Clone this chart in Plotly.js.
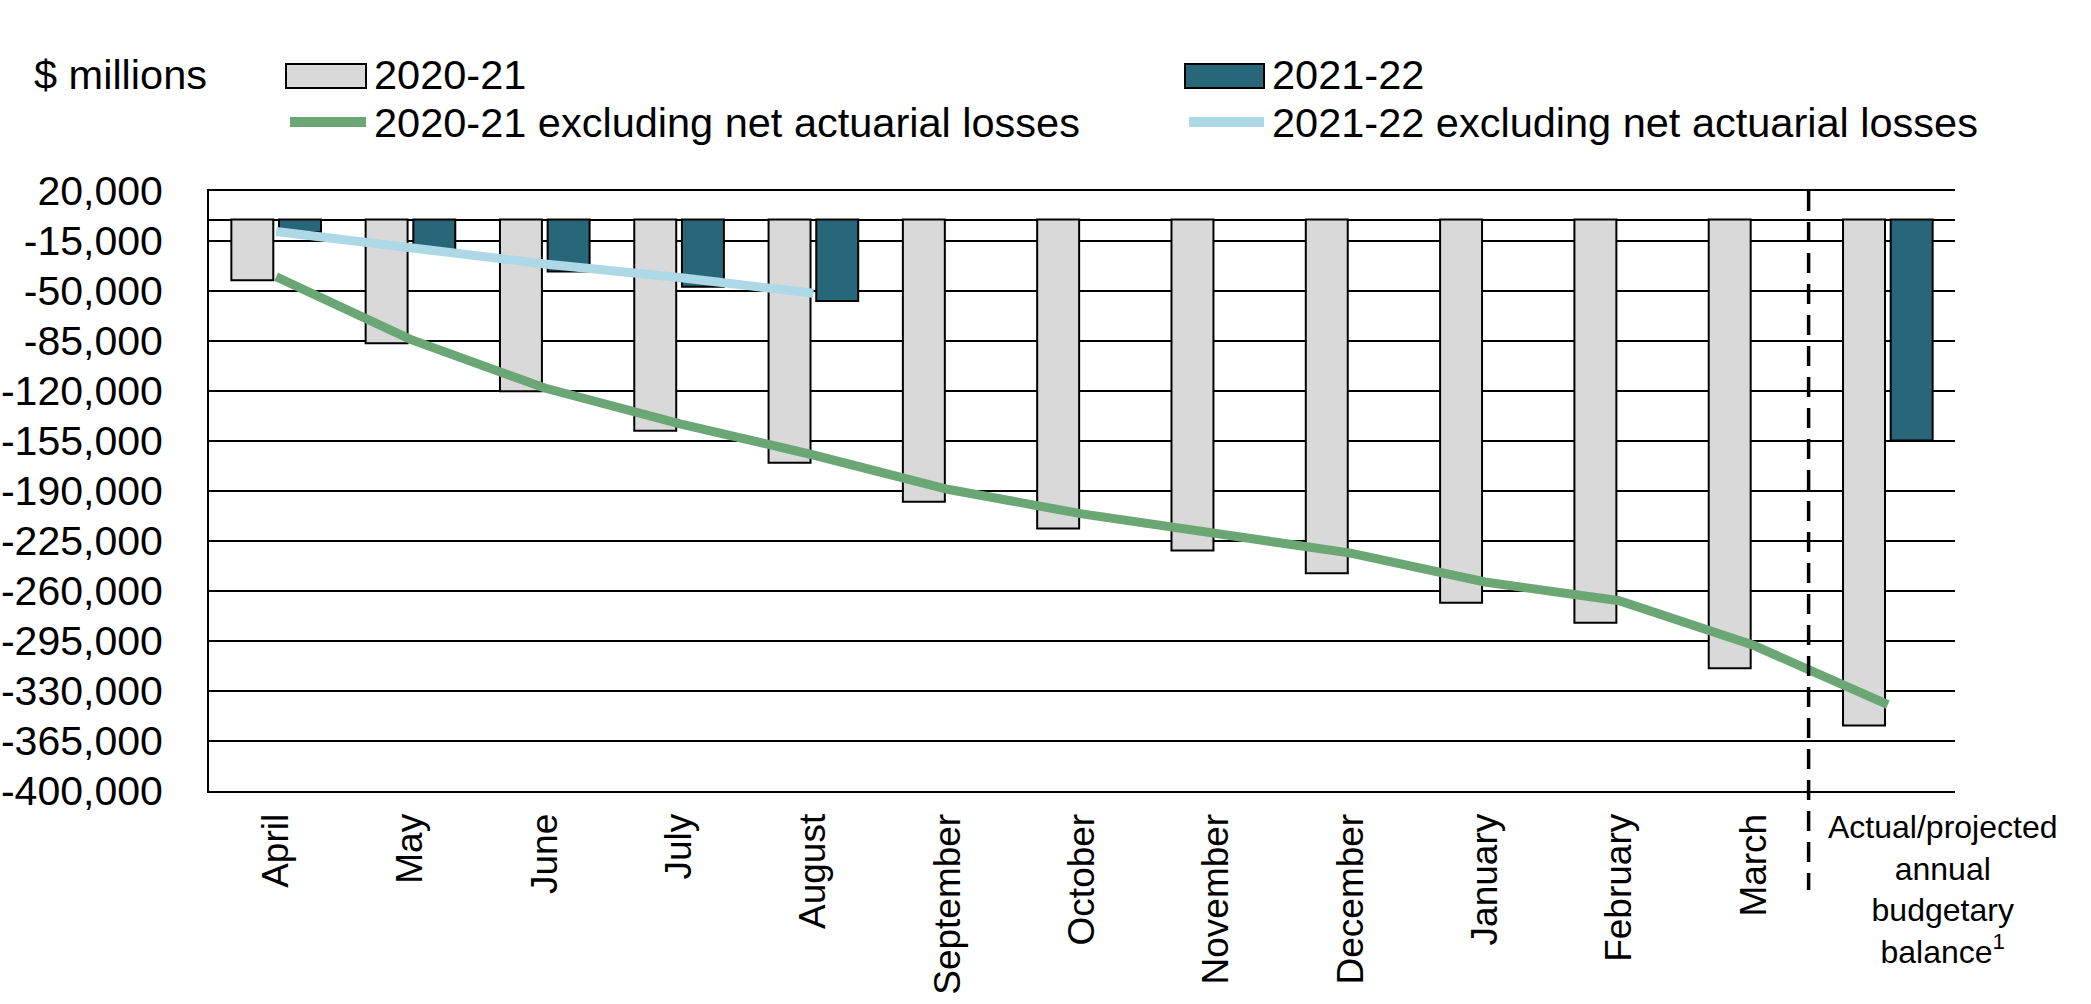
<!DOCTYPE html>
<html>
<head>
<meta charset="utf-8">
<script src="https://cdn.plot.ly/plotly-3.0.1.min.js"></script>
<style>
  html, body { margin: 0; padding: 0; background: #ffffff; }
  #chart { width: 2091px; height: 1004px; }
</style>
</head>
<body>
<div id="chart"></div>
<script>
// ---------------- data ----------------
var categories = ["April", "May", "June", "July", "August", "September", "October",
  "November", "December", "January", "February", "March",
  "Actual/projected annual budgetary balance"];
var monthLabels = ["April", "May", "June", "July", "August", "September", "October",
  "November", "December", "January", "February", "March"];
var annualLabel = "Actual/projected<br>annual<br>budgetary<br>balance<sup>1</sup>";

var balance2020 = [-42400, -86500, -120200, -147800, -170200, -197500, -216300,
  -231600, -247500, -268200, -282200, -314000, -354200];
var balance2021 = [-8800, -21300, -36300, -47000, -57000, null, null,
  null, null, null, null, null, -154700];
var excl2020 = [-40000, -83900, -117900, -142800, -164800, -188800, -206000,
  -220000, -233500, -253700, -266800, -298000, -339500];
var excl2021 = [-8400, -19400, -31100, -40500, -51600];

var yTickVals = [20000, -15000, -50000, -85000, -120000, -155000, -190000,
  -225000, -260000, -295000, -330000, -365000, -400000];
var yTickText = ["20,000", "-15,000", "-50,000", "-85,000", "-120,000", "-155,000", "-190,000",
  "-225,000", "-260,000", "-295,000", "-330,000", "-365,000", "-400,000"];

var seriesNames = ["2020-21", "2021-22", "2020-21 excluding net actuarial losses",
  "2021-22 excluding net actuarial losses"];
var unitLabel = "$ millions";

// ---------------- styles / layout ----------------
var W = 2091, H = 1004;
var ML = 209, MR = 136, MT = 191, MB = 213;
var PW = W - ML - MR, PH = H - MT - MB;
function px(x) { return (x - ML) / PW; }
function py(y) { return (H - MB - y) / PH; }

var FONT = "Liberation Sans, Arial, sans-serif";
var GRAY = "#D9D9D9", TEAL = "#276779", GREEN = "#6AA775", LBLUE = "#ADD8E6";
var CLEAR = "rgba(0,0,0,0)";

var traces = [
  { type: "bar", name: seriesNames[0], x: categories, y: balance2020,
    marker: { color: GRAY, line: { color: "#000000", width: 2 } }, showlegend: false },
  { type: "bar", name: seriesNames[1], x: categories, y: balance2021,
    marker: { color: TEAL, line: { color: "#000000", width: 2 } }, showlegend: false },
  { type: "scatter", mode: "lines", name: seriesNames[2], x: categories, y: excl2020,
    line: { color: GREEN, width: 9 }, showlegend: false },
  { type: "scatter", mode: "lines", name: seriesNames[3], x: categories.slice(0, excl2021.length), y: excl2021,
    line: { color: LBLUE, width: 9 }, showlegend: false }
];

var legendFont = { family: FONT, size: 41.5, color: "#000000" };

var shapes = [
  // vertical dashed separator between March and annual value
  { type: "line", xref: "x", yref: "paper", x0: 11.41, x1: 11.41, y0: 1, y1: py(890),
    line: { color: "#000000", width: 3.5, dash: "20px,11px" }, layer: "above" },
  // legend symbols
  { type: "rect", xref: "paper", yref: "paper", x0: px(286), x1: px(366), y0: py(64), y1: py(88),
    fillcolor: GRAY, line: { color: "#000000", width: 2 } },
  { type: "rect", xref: "paper", yref: "paper", x0: px(1185), x1: px(1264), y0: py(64), y1: py(88),
    fillcolor: TEAL, line: { color: "#000000", width: 2 } },
  { type: "line", xref: "paper", yref: "paper", x0: px(290), x1: px(366), y0: py(122), y1: py(122),
    line: { color: GREEN, width: 10 } },
  { type: "line", xref: "paper", yref: "paper", x0: px(1189), x1: px(1264), y0: py(122), y1: py(122),
    line: { color: LBLUE, width: 10 } }
];

var annotations = [
  { xref: "paper", yref: "paper", x: px(32), y: py(75), xanchor: "left", yanchor: "middle",
    text: unitLabel, showarrow: false, font: legendFont },
  { xref: "paper", yref: "paper", x: px(372), y: py(75), xanchor: "left", yanchor: "middle",
    text: seriesNames[0], showarrow: false, font: legendFont },
  { xref: "paper", yref: "paper", x: px(1270), y: py(75), xanchor: "left", yanchor: "middle",
    text: seriesNames[1], showarrow: false, font: legendFont },
  { xref: "paper", yref: "paper", x: px(372), y: py(122), xanchor: "left", yanchor: "middle",
    text: seriesNames[2], showarrow: false, font: legendFont },
  { xref: "paper", yref: "paper", x: px(1270), y: py(122), xanchor: "left", yanchor: "middle",
    text: seriesNames[3], showarrow: false, font: legendFont },
  // horizontal label for the annual category
  { xref: "x", yref: "paper", x: 12, y: py(807), xanchor: "center", yanchor: "top",
    xshift: 55, text: annualLabel, showarrow: false, align: "center",
    font: { family: FONT, size: 32, color: "#000000" } }
];

var layout = {
  width: W, height: H,
  margin: { l: ML, r: MR, t: MT, b: MB, pad: 0 },
  paper_bgcolor: "#ffffff", plot_bgcolor: "#ffffff",
  barmode: "group", bargap: 0.29, bargroupgap: 0.12,
  showlegend: false,
  font: { family: FONT, color: "#000000" },
  xaxis: {
    type: "category", categoryorder: "array", categoryarray: categories,
    range: [-0.5, 12.5], autorange: false,
    tickmode: "array", tickvals: monthLabels, ticktext: monthLabels,
    tickangle: -90, tickfont: { family: FONT, size: 37, color: "#000000" },
    ticks: "outside", ticklen: 6, tickcolor: CLEAR,
    showgrid: false, showline: true, mirror: true, linecolor: "#000000", linewidth: 2,
    zeroline: false, fixedrange: true
  },
  yaxis: {
    range: [-400000, 20000], autorange: false,
    tickmode: "array", tickvals: yTickVals, ticktext: yTickText,
    tickfont: { family: FONT, size: 41, color: "#000000" },
    ticks: "outside", ticklen: 36, tickcolor: CLEAR,
    showgrid: true, gridcolor: "#000000", gridwidth: 2,
    zeroline: true, zerolinecolor: "#000000", zerolinewidth: 2,
    showline: true, linecolor: "#000000", linewidth: 2, fixedrange: true
  },
  shapes: shapes,
  annotations: annotations
};

Plotly.newPlot("chart", traces, layout, { staticPlot: true, displayModeBar: false });
</script>
</body>
</html>
